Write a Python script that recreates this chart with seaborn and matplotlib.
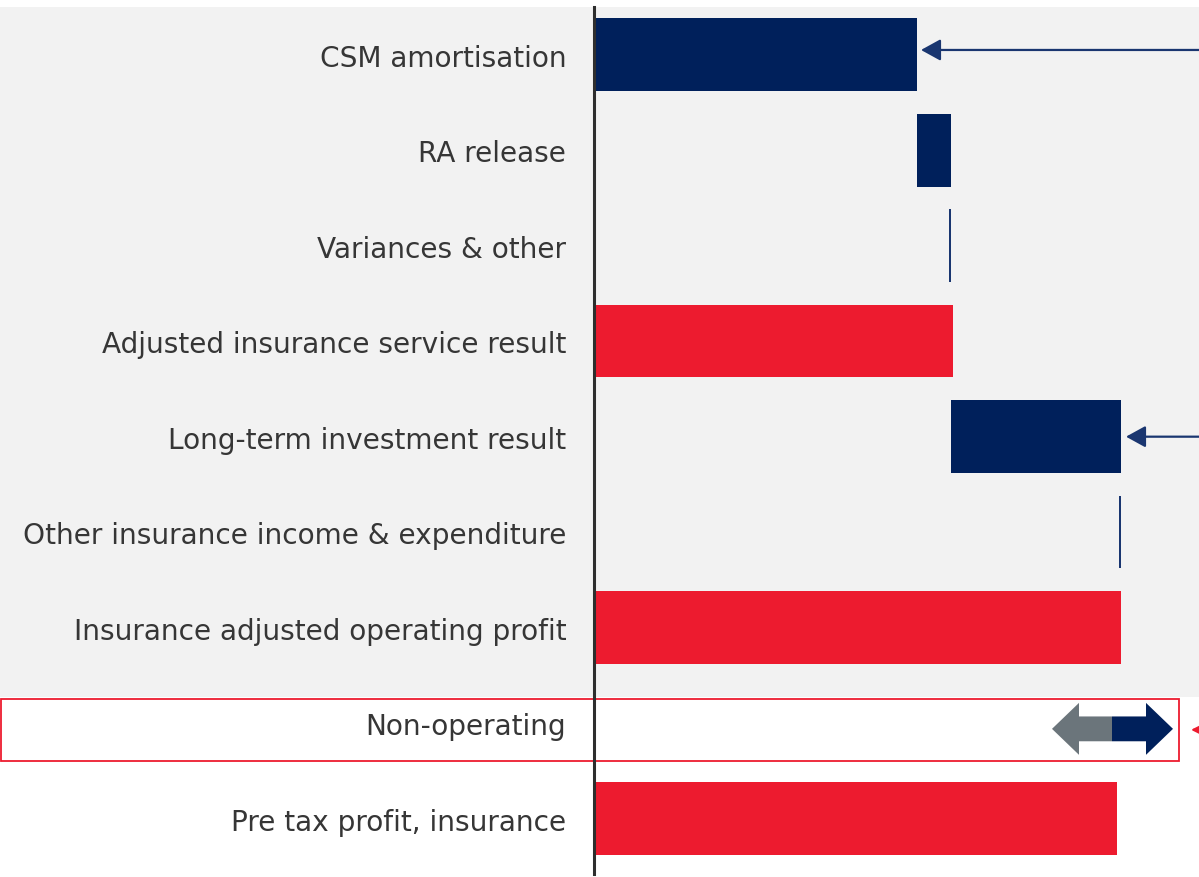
import numpy as np
import pandas as pd
import matplotlib
matplotlib.use("Agg")
import matplotlib.pyplot as plt
from matplotlib.patches import Rectangle, Polygon
import seaborn as sns

# waterfall rows (values in chart units)
labels = ["CSM amortisation", "RA release", "Variances & other",
          "Adjusted insurance service result", "Long-term investment result",
          "Other insurance income & expenditure", "Insurance adjusted operating profit",
          "Non-operating", "Pre tax profit, insurance"]
starts = [0, 323, 355, 0, 357, 525, 0, 0, 0]
widths = [323, 34, 2, 359, 170, 2, 527, 0, 523]
kinds = ["step", "step", "line", "total", "step", "line", "total", "none", "total"]
nonop_range = [458, 518, 579]  # low / split / high of the non-operating arrow

NAVY = "#00205b"
RED = "#ed1b2f"
LINE = "#1a3670"
GREY_ARROW = "#6b757b"
BG = "#f2f2f2"
TXT = "#363636"
kind_color = {"step": NAVY, "line": LINE, "total": RED, "none": "none"}

df = pd.DataFrame({"label": labels, "start": starts, "width": widths, "kind": kinds})

sns.set_theme(style="white")
plt.rcParams["font.family"] = ["DejaVu Sans"]

W, H = 1199, 878
fig = plt.figure(figsize=(W / 100, H / 100), dpi=100)
fig.patch.set_facecolor("white")

# grey panel behind the operating rows and red box round non-operating
fig.patches.append(Rectangle((0, 1 - 698 / H), 1, (698 - 8) / H, transform=fig.transFigure,
                             facecolor=BG, edgecolor="none", zorder=-10))
fig.patches.append(Rectangle((0.5 / W, 1 - 762 / H), 1178 / W, 62 / H, transform=fig.transFigure,
                             facecolor="none", edgecolor=RED, linewidth=1.3, zorder=-5))

ax = fig.add_axes([594 / W, 3 / H, 605 / W, 867 / H])
ax.patch.set_alpha(0)

sns.barplot(data=df, x="width", y="label", order=labels, orient="h", ax=ax,
            left=df["start"].values, width=0.76, linewidth=0, errorbar=None,
            color=NAVY, saturation=1)
for patch, k in zip(ax.patches, kinds):
    patch.set_facecolor(kind_color[k])

# non-operating double arrow
lo, mid, hi = nonop_range
c = 7.06
hw, sw, hl = 0.272, 0.13, 27
ax.add_patch(Polygon([(lo, c), (lo + hl, c - hw), (lo + hl, c - sw), (mid, c - sw),
                      (mid, c + sw), (lo + hl, c + sw), (lo + hl, c + hw)],
                     closed=True, facecolor=GREY_ARROW, edgecolor="none", clip_on=False))
ax.add_patch(Polygon([(hi, c), (hi - hl, c - hw), (hi - hl, c - sw), (mid, c - sw),
                      (mid, c + sw), (hi - hl, c + sw), (hi - hl, c + hw)],
                     closed=True, facecolor=NAVY, edgecolor="none", clip_on=False))

# call-out arrows coming in from the right
arrow_kw = dict(arrowstyle="-|>,head_length=1.0,head_width=0.55", color=LINE, lw=1.6,
                shrinkA=0, shrinkB=0)
ax.annotate("", xy=(starts[0] + widths[0] + 4, -0.05), xytext=(640, -0.05),
            arrowprops=arrow_kw, annotation_clip=False)
ax.annotate("", xy=(starts[4] + widths[4] + 5, 4.0), xytext=(640, 4.0),
            arrowprops=arrow_kw, annotation_clip=False)
ax.annotate("", xy=(597, 7.07), xytext=(660, 7.07),
            arrowprops=dict(arrowstyle="-|>,head_length=1.2,head_width=0.6", color=RED,
                            lw=1.6, shrinkA=0, shrinkB=0), annotation_clip=False)

ax.set_xlim(0, 605)
ax.set_ylim(8.58, -0.5)
ax.set_xlabel("")
ax.set_ylabel("")
ax.set_xticks([])
for s in ["top", "right", "bottom"]:
    ax.spines[s].set_visible(False)
ax.spines["left"].set_color("#2e2e2e")
ax.spines["left"].set_linewidth(2.2)
ax.spines["left"].set_zorder(5)
ax.tick_params(axis="y", length=0, pad=20, labelsize=20.2, labelcolor=TXT)

fig.savefig("out.png", dpi=100)
